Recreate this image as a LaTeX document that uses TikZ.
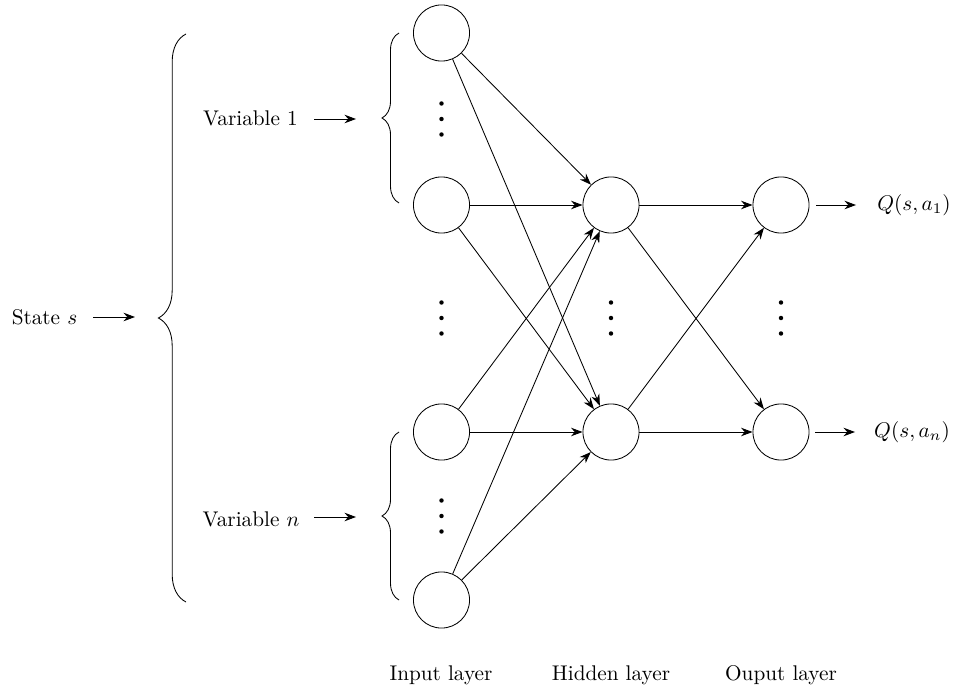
\documentclass[tikz,border=0pt]{standalone}
\usetikzlibrary{decorations.pathreplacing,arrows.meta}
\begin{document}
\begin{tikzpicture}[x=0.4706pt,y=-0.4706pt,
  neuron/.style={circle,draw,minimum size=26.4pt,inner sep=0pt},
  conn/.style={-{Stealth[length=5.4pt,width=4pt]}},
  bracedec/.style={decorate,decoration={brace,amplitude=#1}},
  lbl/.style={anchor=base}]
\useasboundingbox (0,0) rectangle (955,687);

% neurons
\node[neuron] (i1) at (441.5,33) {};
\node[neuron] (i2) at (441.5,205) {};
\node[neuron] (i3) at (441.5,432) {};
\node[neuron] (i4) at (441.5,600) {};
\node[neuron] (h1) at (611,205) {};
\node[neuron] (h2) at (611,432) {};
\node[neuron] (o1) at (781,205) {};
\node[neuron] (o2) at (781,432) {};

% vertical dots
\foreach \x/\y in {441.5/119, 441.5/318, 611/318, 781/318, 441.5/516}
  \foreach \d in {-15.5,0,15.5}
    \fill (\x,\y+\d) circle (1.05pt);

% connections
\foreach \i in {1,...,4}
  \foreach \h in {1,2}
    \draw[conn] (i\i) -- (h\h);
\foreach \h in {1,2}
  \foreach \o in {1,2}
    \draw[conn] (h\h) -- (o\o);

% outputs
\node (q1) at (914,205) {$Q(s,a_1)$};
\node (q2) at (912,432) {$Q(s,a_n)$};
\coordinate (q1s) at (816,205);
\coordinate (q1e) at (856,205);
\coordinate (q2s) at (815,432);
\coordinate (q2e) at (855,432);
\draw[conn] (q1s) -- (q1e);
\draw[conn] (q2s) -- (q2e);

% braces
\draw[bracedec=13pt] (186,602) -- (186,34);
\draw[bracedec=8pt] (399,203) -- (399,33);
\draw[bracedec=8pt] (399,600) -- (399,432);

% left labels
\node[lbl] (v1) at (250.5,126) {Variable 1};
\node[lbl] (vn) at (251,526.5) {Variable $n$};
\node[lbl] (st) at (44.5,325) {State $s$};
\coordinate (v1s) at (314,119);
\coordinate (v1e) at (356,119);
\coordinate (vns) at (314,517);
\coordinate (vne) at (356,517);
\coordinate (sts) at (93,317);
\coordinate (ste) at (135,317);
\draw[conn] (v1s) -- (v1e);
\draw[conn] (vns) -- (vne);
\draw[conn] (sts) -- (ste);

% layer labels
\node (li) at (441,675) {Input layer};
\node (lh) at (611,675) {Hidden layer};
\node (lo) at (781,675) {Ouput layer};
\end{tikzpicture}
\end{document}
